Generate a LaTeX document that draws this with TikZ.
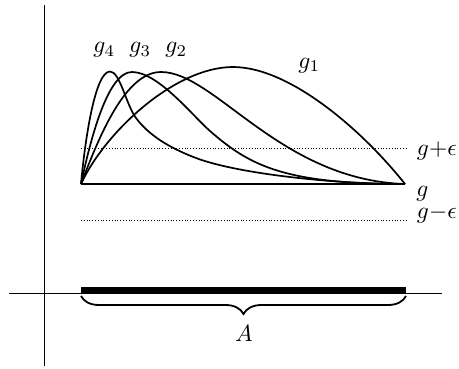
\documentclass[tikz,border=0pt]{standalone}
\usetikzlibrary{decorations.pathreplacing}
\begin{document}
\begin{tikzpicture}[x=1pt,y=-1pt,
  curve/.style={line width=1.7pt, line join=round},
  axis/.style={line width=0.8pt},
  epsline/.style={line width=0.8pt, dash pattern=on 0.8pt off 2pt},
  lbl/.style={inner sep=0pt, scale=2.35, anchor=base west}]
\useasboundingbox (0,0) rectangle (459,368);
% axes
\coordinate (vtop) at (44,5);
\coordinate (vbot) at (44,366);
\coordinate (hl) at (9,293);
\coordinate (hr) at (442,293);
\draw[axis] (vtop) -- (vbot);
\draw[axis] (hl) -- (hr);
% set A
\coordinate (a0) at (81,290);
\coordinate (a1) at (406,290);
\draw[line width=6.5pt] (a0) -- (a1);
\coordinate (b0) at (81,296);
\coordinate (b1) at (406,296);
\draw[decorate, decoration={brace, amplitude=18pt, mirror}, line width=1.8pt] (b0) -- (b1);
\node[inner sep=0pt, scale=2.35, anchor=base] (A) at (244,341) {$A$};
% base function g and epsilon band
\coordinate (O) at (81,184);
\coordinate (E) at (405,184);
\draw[line width=1.2pt] (O) -- (E);
\coordinate (p0) at (81,148);
\coordinate (p1) at (407,148);
\coordinate (m0) at (81,220);
\coordinate (m1) at (407,220);
\draw[epsline] (p0) -- (p1);
\draw[epsline] (m0) -- (m1);
\node[lbl] (gpe) at (416.5,155) {$g{+}\epsilon$};
\node[lbl] (g) at (416,196) {$g$};
\node[lbl] (gme) at (416.5,218) {$g{-}\epsilon$};
% curves
% g1
\draw[curve] (O) .. controls (105,132) and (175,67) .. (233,67)
                 .. controls (290,67) and (363,131) .. (E);
% g2
\draw[curve] (O) .. controls (99,137) and (125,72) .. (161,72)
                 .. controls (215,72) and (280,180) .. (E);
% g3
\draw[curve] (O) .. controls (91,137) and (108,72) .. (132,72)
                 .. controls (158,72) and (192,115.2) .. (210,131)
                 .. controls (250,166) and (285,184) .. (E);
% g4
\draw[curve] (O) .. controls (85,140) and (95,71.5) .. (110,71.5)
                 .. controls (120,71.5) and (126,104.5) .. (136,118)
                 .. controls (151,138.3) and (176,150.4) .. (196,158)
                 .. controls (236,173.2) and (330,184) .. (E);
% curve labels
\node[lbl] (g4) at (93,52.6) {$g_4$};
\node[lbl] (g3) at (129,52.6) {$g_3$};
\node[lbl] (g2) at (165,52.6) {$g_2$};
\node[lbl] (g1) at (298,68) {$g_1$};
\end{tikzpicture}
\end{document}
